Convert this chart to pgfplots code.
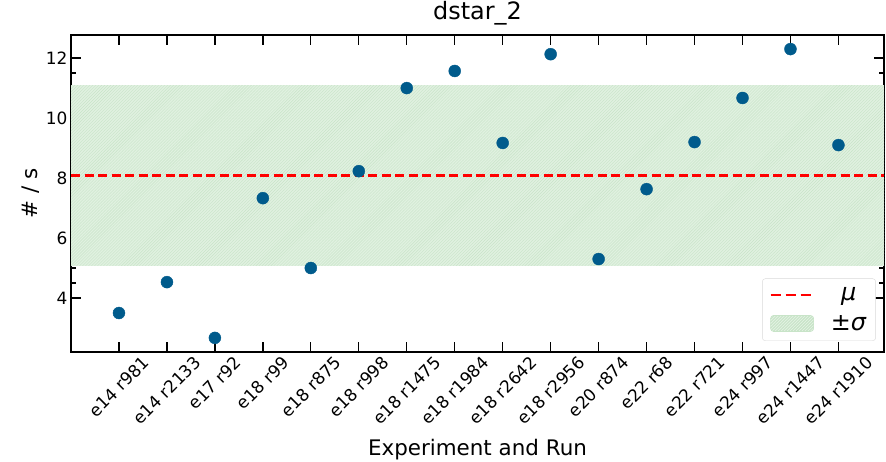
\documentclass[border=0pt]{standalone}
\usepackage{fontspec}
\setmainfont{DejaVu Sans}
\usepackage{pgfplots}
\pgfplotsset{compat=1.18}
\usetikzlibrary{patterns}
\definecolor{dotc}{RGB}{0,91,140}
\definecolor{bandfill}{RGB}{224,241,224}
\definecolor{bandhatch}{RGB}{200,228,200}
\newcommand\rl[1]{\rotatebox{45}{#1}}
\pgfplotsset{
  lineleg/.style={legend image code/.code={\draw[red, line width=2.6bp, dash pattern=on 10bp off 5bp] (0bp,0bp) -- (43bp,0bp);}},
  boxleg/.style={legend image code/.code={%
    \filldraw[fill=bandfill, draw=bandhatch, line width=0.6bp] (0bp,-8bp) rectangle (43bp,8bp);
    \fill[pattern=north east lines, pattern color=bandhatch] (0bp,-8bp) rectangle (43bp,8bp);}},
}
\begin{document}
\begin{tikzpicture}
\useasboundingbox (-71bp,-110bp) rectangle (815bp,352bp);
\begin{axis}[
  scale only axis, width=813bp, height=317bp,
  xmin=-1, xmax=15.95, ymin=2.2, ymax=12.77,
  xtick={0,...,15},
  xticklabels={\rl{e14 r981},\rl{e14 r2133},\rl{e17 r92},\rl{e18 r99},\rl{e18 r875},\rl{e18 r998},\rl{e18 r1475},\rl{e18 r1984},\rl{e18 r2642},\rl{e18 r2956},\rl{e20 r874},\rl{e22 r68},\rl{e22 r721},\rl{e24 r997},\rl{e24 r1447},\rl{e24 r1910}},
  xticklabel style={anchor=north, font=\fontsize{17}{17}\selectfont, inner sep=2bp, yshift=-1bp},
  ytick={4,6,8,10,12},
  minor y tick num=3,
  yticklabel style={font=\fontsize{17}{17}\selectfont},
  /pgf/number format/assume math mode=true,
  tick align=inside,
  major tick length=10bp, minor tick length=5bp,
  every tick/.style={black, line width=1.3bp},
  axis line style={line width=1.6bp},
  title={dstar\_2},
  title style={font=\fontsize{24}{24}\selectfont},
  xlabel={Experiment and Run},
  xlabel style={yshift=-8bp},
  ylabel={\# / s},
  label style={font=\fontsize{21.5}{21.5}\selectfont},
  reverse legend,
  legend style={at={(0.99,0.035)}, anchor=south east, draw=black!15, rounded corners=3bp,
    font=\fontsize{24}{24}\selectfont, row sep=9bp, column sep=14bp, inner xsep=7bp, inner ysep=7bp},
  legend cell align=center,
]
\addplot[draw=none, fill=bandfill,
  postaction={pattern=north east lines, pattern color=bandhatch}, boxleg]
  coordinates {(-1,5.07) (15.95,5.07) (15.95,11.1) (-1,11.1)} -- cycle;
\addlegendentry{±\textit{σ}}
\addplot[red, line width=2.6bp, dash pattern=on 9bp off 4.5bp, lineleg]
  coordinates {(-1,8.08) (15.95,8.08)};
\addlegendentry{\textit{μ}}
\addplot[only marks, mark=*, mark size=6bp, color=dotc, forget plot]
  coordinates {
  (0,3.50) (1,4.53) (2,2.67) (3,7.33) (4,5.00) (5,8.23) (6,11.00) (7,11.57)
  (8,9.17) (9,12.13) (10,5.30) (11,7.63) (12,9.20) (13,10.67) (14,12.30) (15,9.10)
  };
\end{axis}
\end{tikzpicture}
\end{document}
